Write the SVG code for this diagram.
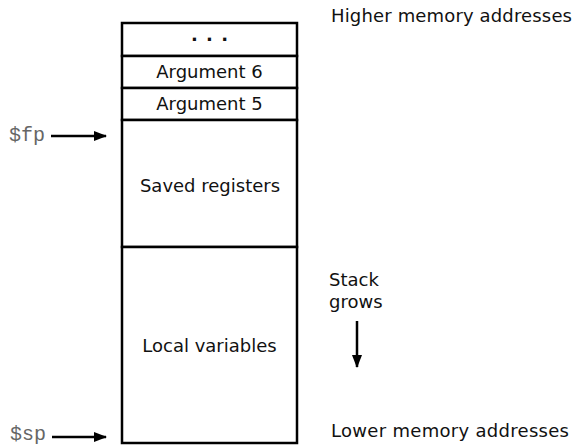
<svg xmlns="http://www.w3.org/2000/svg" width="575" height="447" viewBox="0 0 575 447">
<defs>
<marker id="ah" markerWidth="13" markerHeight="10" refX="12" refY="5" orient="auto" markerUnits="userSpaceOnUse">
<path d="M0,0 L13,5 L0,10 Z" fill="#000"/>
</marker>
<style>
.lbl{font-family:"DejaVu Sans","Liberation Sans",sans-serif;font-size:18px;fill:#111}
.c{text-anchor:middle}
.reg{font-family:"Liberation Mono","Courier New",monospace;font-size:20px;fill:#666}
.box{fill:#fff;stroke:#000;stroke-width:2.5}
.conn{stroke:#000;stroke-width:2.5;fill:none}
</style>
</defs>
<rect width="575" height="447" fill="#fff"/>
<g id="stack">
<g id="dots"><rect class="box" x="122" y="23" width="175" height="33"/><text class="lbl c" x="210" y="41" font-weight="bold" letter-spacing="1">. . .</text></g>
<g id="arg6"><rect class="box" x="122" y="56" width="175" height="32"/><text class="lbl c" x="209.5" y="78">Argument 6</text></g>
<g id="arg5"><rect class="box" x="122" y="88" width="175" height="32"/><text class="lbl c" x="209.5" y="110">Argument 5</text></g>
<g id="saved"><rect class="box" x="122" y="120" width="175" height="127"/><text class="lbl c" x="210" y="192">Saved registers</text></g>
<g id="locals"><rect class="box" x="122" y="247" width="175" height="196"/><text class="lbl c" x="209.5" y="352">Local variables</text></g>
</g>
<g id="fp"><text class="reg" x="9" y="141">$fp</text></g>
<g id="sp"><text class="reg" x="10" y="440">$sp</text></g>
<g id="higher"><text class="lbl" x="331" y="22" textLength="241">Higher memory addresses</text></g>
<g id="lower"><text class="lbl" x="331" y="437" textLength="238">Lower memory addresses</text></g>
<g id="grows"><text class="lbl" x="329" y="286">Stack</text><text class="lbl" x="329" y="308">grows</text></g>
<g id="connectors">
<line class="conn" x1="51" y1="136" x2="106" y2="136" marker-end="url(#ah)"/>
<line class="conn" x1="52" y1="437" x2="106" y2="437" marker-end="url(#ah)"/>
<line class="conn" x1="357" y1="321" x2="357" y2="367" marker-end="url(#ah)"/>
</g>
</svg>
